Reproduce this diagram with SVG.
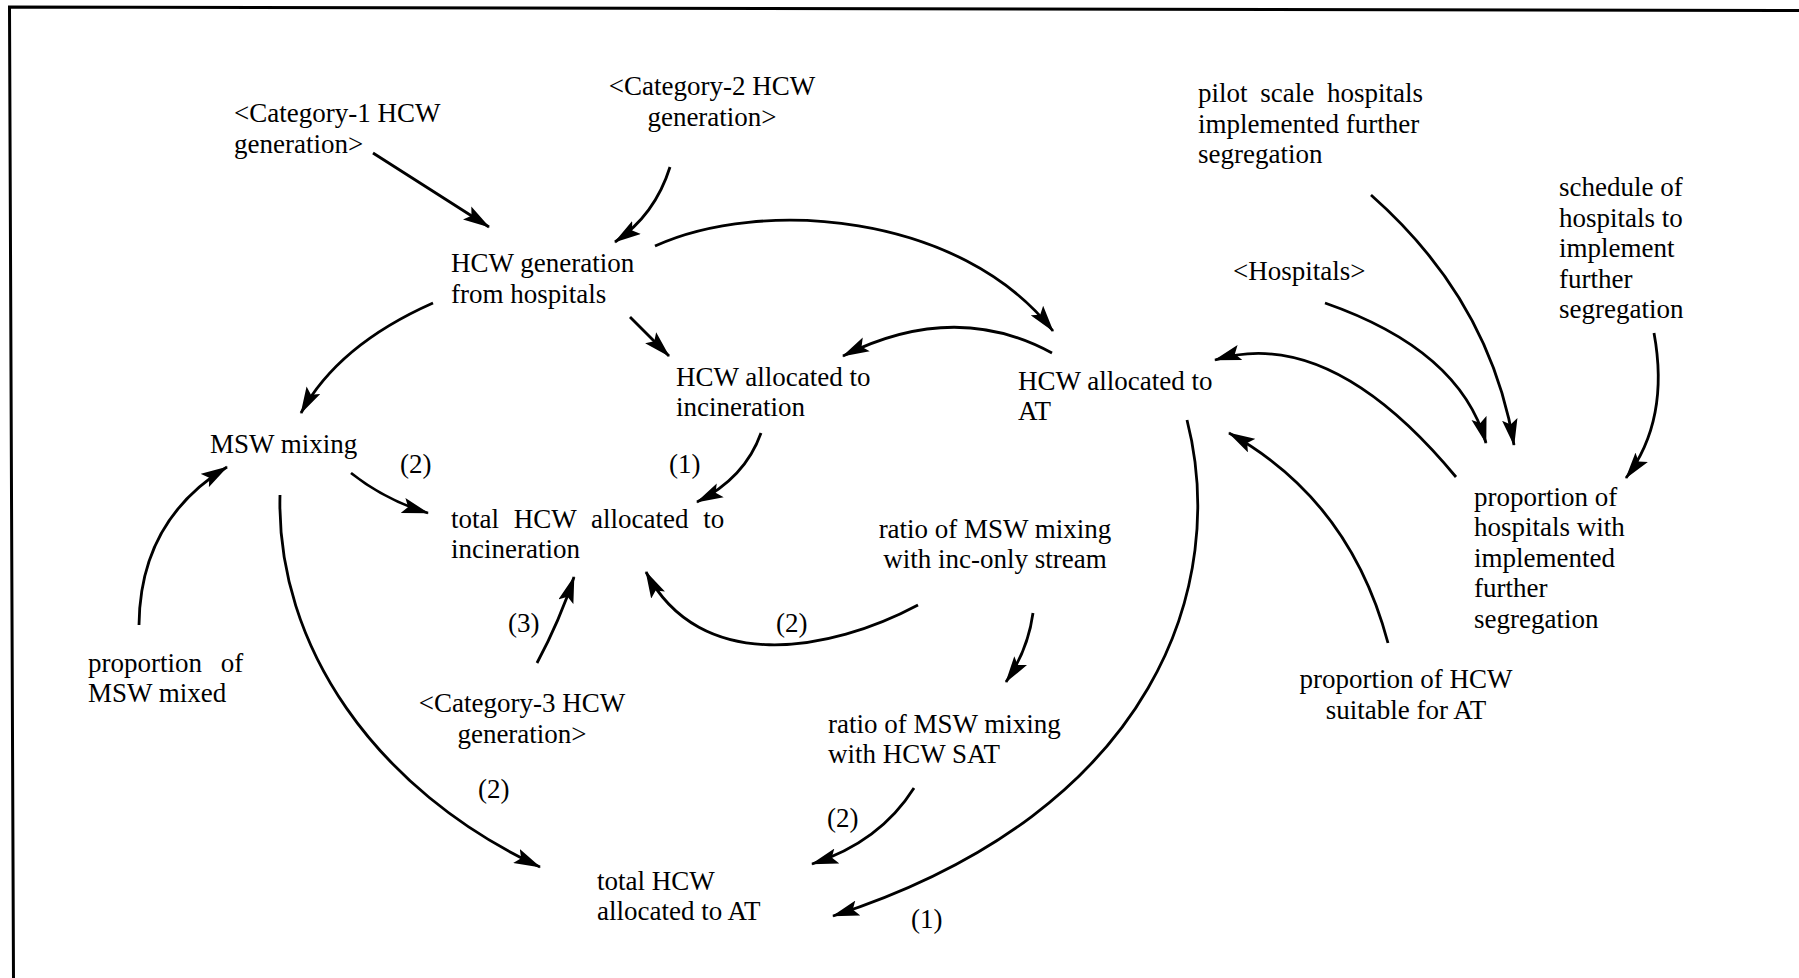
<svg xmlns="http://www.w3.org/2000/svg" width="1799" height="978" viewBox="0 0 1799 978">
  <style>
    text { font-family: "Liberation Serif", "Times New Roman", serif; font-size: 27px; fill: #000; }
    .mid { text-anchor: middle; }
    .link { fill: none; stroke: #000; stroke-width: 2.8; marker-end: url(#head); }
    .frame { fill: none; stroke: #000; stroke-width: 3; }
  </style>
  <defs>
    <marker id="head" markerUnits="userSpaceOnUse" markerWidth="27" markerHeight="16" viewBox="0 0 26 15" refX="25" refY="7.5" orient="auto">
      <path d="M0,0 L26,7.5 L0,15 L5,7.5 z" fill="#000"/>
    </marker>
  </defs>

  <rect width="1799" height="978" fill="#fff"/>

  <!-- outer frame: top and left edges only -->
  <g id="frame">
    <path class="frame" d="M1799,10.5 L9.5,7 L13.5,978"/>
  </g>

  <!-- causal links -->
  <g id="connectors">
    <path class="link" d="M373,153 L442,197 L489,227"/>
    <path class="link" d="M670,167 Q655,215 615,242"/>
    <path class="link" d="M655,246 C760,198 960,212 1053,331"/>
    <path class="link" d="M630,317 L669,356"/>
    <path class="link" d="M433,303 Q338,345 301,413"/>
    <path class="link" d="M1052,353 Q955,300 843,356"/>
    <path class="link" d="M761,433 Q745,478 697,502"/>
    <path class="link" d="M351,473 Q385,500 428,513"/>
    <path class="link" d="M139,625 Q140,520 227,467"/>
    <path class="link" d="M280,495 C276,645 375,790 540,867"/>
    <path class="link" d="M537,663 Q560,620 574,577"/>
    <path class="link" d="M918,605 C830,652 700,675 646,572"/>
    <path class="link" d="M1033,613 Q1028,650 1006,682"/>
    <path class="link" d="M914,788 Q880,842 812,864"/>
    <path class="link" d="M1187,420 C1228,580 1160,810 833,916"/>
    <path class="link" d="M1456,477 Q1330,325 1215,360"/>
    <path class="link" d="M1388,643 Q1350,500 1229,433"/>
    <path class="link" d="M1325,303 Q1460,350 1486,443"/>
    <path class="link" d="M1371,195 Q1490,300 1514,445"/>
    <path class="link" d="M1654,333 Q1670,420 1626,478"/>
  </g>

  <g id="cat1">
    <text x="234" y="122">&lt;Category-1 HCW</text>
    <text x="234" y="153">generation&gt;</text>
  </g>
  <g id="cat2">
    <text class="mid" x="712" y="95">&lt;Category-2 HCW</text>
    <text class="mid" x="712" y="126">generation&gt;</text>
  </g>
  <g id="hcw-generation">
    <text x="451" y="272">HCW generation</text>
    <text x="451" y="303">from hospitals</text>
  </g>
  <g id="hcw-incineration">
    <text x="676" y="386">HCW allocated to</text>
    <text x="676" y="416">incineration</text>
  </g>
  <g id="hcw-at">
    <text x="1018" y="390">HCW allocated to</text>
    <text x="1018" y="420">AT</text>
  </g>
  <g id="msw-mixing">
    <text x="210" y="453">MSW mixing</text>
  </g>
  <g id="total-incineration">
    <text x="451" y="528" word-spacing="8">total HCW allocated to</text>
    <text x="451" y="558">incineration</text>
  </g>
  <g id="ratio-inc-only">
    <text class="mid" x="995" y="538">ratio of MSW mixing</text>
    <text class="mid" x="995" y="568">with inc-only stream</text>
  </g>
  <g id="proportion-msw">
    <text x="88" y="672" word-spacing="12">proportion of</text>
    <text x="88" y="702">MSW mixed</text>
  </g>
  <g id="cat3">
    <text class="mid" x="522" y="712">&lt;Category-3 HCW</text>
    <text class="mid" x="522" y="743">generation&gt;</text>
  </g>
  <g id="ratio-sat">
    <text x="828" y="733">ratio of MSW mixing</text>
    <text x="828" y="763">with HCW SAT</text>
  </g>
  <g id="total-at">
    <text x="597" y="890">total HCW</text>
    <text x="597" y="920">allocated to AT</text>
  </g>
  <g id="pilot-scale">
    <text x="1198" y="102" word-spacing="6">pilot scale hospitals</text>
    <text x="1198" y="133">implemented further</text>
    <text x="1198" y="163">segregation</text>
  </g>
  <g id="schedule">
    <text x="1559" y="196">schedule of</text>
    <text x="1559" y="227">hospitals to</text>
    <text x="1559" y="257">implement</text>
    <text x="1559" y="288">further</text>
    <text x="1559" y="318">segregation</text>
  </g>
  <g id="hospitals">
    <text x="1233" y="280">&lt;Hospitals&gt;</text>
  </g>
  <g id="proportion-hospitals">
    <text x="1474" y="506">proportion of</text>
    <text x="1474" y="536">hospitals with</text>
    <text x="1474" y="567">implemented</text>
    <text x="1474" y="597">further</text>
    <text x="1474" y="628">segregation</text>
  </g>
  <g id="proportion-suitable">
    <text class="mid" x="1406" y="688">proportion of HCW</text>
    <text class="mid" x="1406" y="719">suitable for AT</text>
  </g>

  <!-- link delay labels -->
  <g id="labels">
    <text x="400" y="473">(2)</text>
    <text x="669" y="473">(1)</text>
    <text x="508" y="632">(3)</text>
    <text x="776" y="632">(2)</text>
    <text x="478" y="798">(2)</text>
    <text x="827" y="827">(2)</text>
    <text x="911" y="928">(1)</text>
  </g>
</svg>
